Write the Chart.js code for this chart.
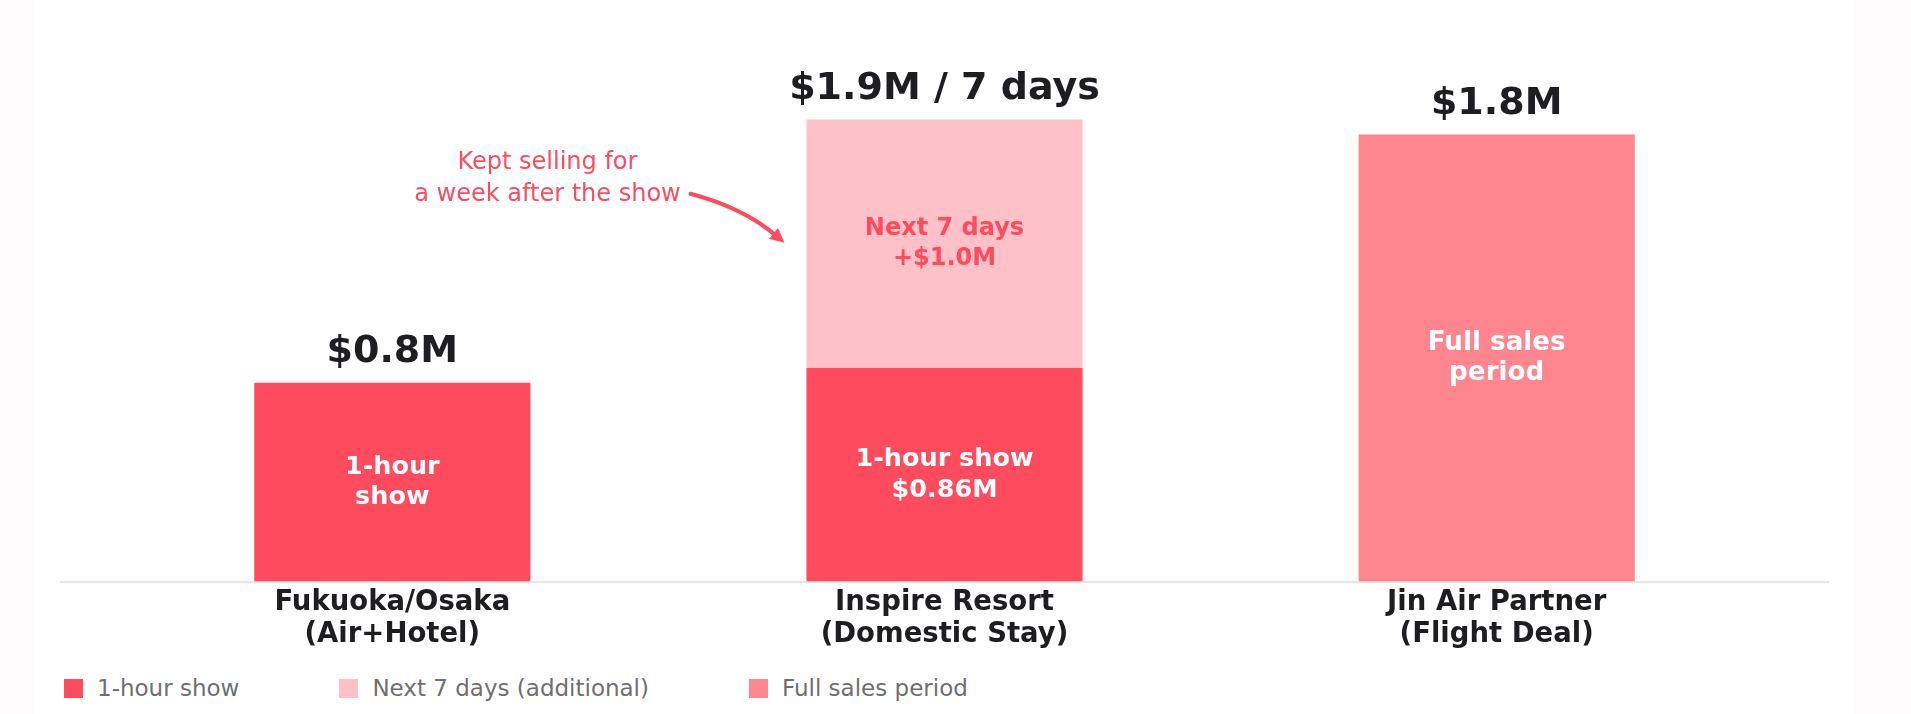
<!DOCTYPE html>
<html>
<head>
<meta charset="utf-8">
<title>Live commerce sales</title>
<script src="https://cdn.jsdelivr.net/npm/chart.js"></script>
<style>
html, body { margin: 0; padding: 0; background: #fffafb; }
#card { position: absolute; left: 34px; top: 0; width: 1820px; height: 714px; background: #fff; }
#myChart { position: absolute; left: 0; top: 0; }
#legend { position: absolute; left: 30px; top: 677px; display: flex; gap: 100px; font: 23px 'DejaVu Sans'; color: #6f6f73; }
#legend .item { display: flex; align-items: center; line-height: 23px; }
#legend .box { width: 19px; height: 19px; margin-right: 14px; }
</style>
</head>
<body>
<div id="card">
    <canvas id="myChart" width="1820" height="660"></canvas>
    <div id="legend"></div>
</div>
<script>
// categories (multi-line tick labels)
const categories = [
    ['Fukuoka/Osaka', '(Air+Hotel)'],
    ['Inspire Resort', '(Domestic Stay)'],
    ['Jin Air Partner', '(Flight Deal)']
];
const seriesNames = ['1-hour show', 'Next 7 days (additional)', 'Full sales period'];

// sales in $M
const showSales = [0.8, 0.86, null];
const weekSales = [null, 1.0, null];
const fullSales = [null, null, 1.8];

const totalLabels = ['$0.8M', '$1.9M / 7 days', '$1.8M'];
const showText = [['1-hour', 'show'], ['1-hour show', '$0.86M'], null];
const weekText = [null, ['Next 7 days', '+$1.0M'], null];
const fullText = [null, null, ['Full sales', 'period']];
const noteText = ['Kept selling for', 'a week after the show'];

const colors = ['#ff4b5e', '#ffc1c8', '#ff858f'];
const FONT = "'DejaVu Sans'";

function points(values) {
    return values.map((v, i) => ({x: i, y: v}));
}

const barText = {
    id: 'barText',
    afterDatasetsDraw(chart) {
        const ctx = chart.ctx;
        const texts = [showText, weekText, fullText];
        const sizes = [25.5, 24, 26.2];
        ctx.save();
        ctx.textAlign = 'center';
        ctx.textBaseline = 'middle';

        // text inside the bars
        chart.data.datasets.forEach((ds, d) => {
            const meta = chart.getDatasetMeta(d);
            meta.data.forEach((bar, j) => {
                const lines = texts[d][j];
                if (!lines || ds.data[j].y == null) return;
                const mid = (bar.y + bar.base) / 2;
                ctx.fillStyle = d === 1 ? colors[0] : '#ffffff';
                ctx.font = 'bold ' + sizes[d] + 'px ' + FONT;
                lines.forEach((t, k) => {
                    ctx.fillText(t, bar.x, mid + (k - (lines.length - 1) / 2) * 30.5);
                });
            });
        });

        // totals above the stacks
        const yScale = chart.scales.y;
        const xScale = chart.scales.x;
        ctx.fillStyle = '#1d1d22';
        ctx.font = 'bold 38px ' + FONT;
        totalLabels.forEach((t, j) => {
            const sum = (showSales[j] || 0) + (weekSales[j] || 0) + (fullSales[j] || 0);
            ctx.fillText(t, xScale.getPixelForValue(j), yScale.getPixelForValue(sum) - 30.5);
        });

        // annotation with arrow next to the "next 7 days" segment
        const seg = chart.getDatasetMeta(1).data[1];
        const left = seg.x - seg.width / 2;
        const midY = (seg.y + seg.base) / 2;
        ctx.fillStyle = colors[0];
        ctx.font = '24px ' + FONT;
        ctx.fillText(noteText[0], left - 259, midY - 81);
        ctx.fillText(noteText[1], left - 259, midY - 49);

        const sx = left - 116, sy = midY - 50;
        const cx = left - 63, cy = midY - 36;
        const tx = left - 22, ty = midY - 1;
        const ang = Math.atan2(ty - cy, tx - cx);
        const head = 16;
        const ex = tx - Math.cos(ang) * head * 0.7, ey = ty - Math.sin(ang) * head * 0.7;
        ctx.strokeStyle = colors[0];
        ctx.lineWidth = 4;
        ctx.lineCap = 'round';
        ctx.beginPath();
        ctx.moveTo(sx, sy);
        ctx.quadraticCurveTo(cx, cy, ex, ey);
        ctx.stroke();
        ctx.beginPath();
        ctx.moveTo(tx, ty);
        ctx.lineTo(tx - head * Math.cos(ang - 0.45), ty - head * Math.sin(ang - 0.45));
        ctx.lineTo(tx - head * Math.cos(ang + 0.45), ty - head * Math.sin(ang + 0.45));
        ctx.closePath();
        ctx.fill();
        ctx.restore();
    }
};

function chart() {
    const ctx = document.getElementById('myChart').getContext('2d');

    const salesChart = new Chart(ctx, {
        type: 'bar',
        data: {
            datasets: [{
                label: seriesNames[0],
                data: points(showSales),
                backgroundColor: colors[0]
            }, {
                label: seriesNames[1],
                data: points(weekSales),
                backgroundColor: colors[1]
            }, {
                label: seriesNames[2],
                data: points(fullSales),
                backgroundColor: colors[2]
            }]
        },
        options: {
            responsive: false,
            animation: false,
            devicePixelRatio: 1,
            categoryPercentage: 1,
            barPercentage: 0.5,
            layout: {
                padding: {top: 35, left: 27, right: 26, bottom: 4}
            },
            plugins: {
                legend: {display: false},
                tooltip: {enabled: false}
            },
            scales: {
                x: {
                    type: 'linear',
                    min: -0.6,
                    max: 2.6,
                    offset: false,
                    stacked: true,
                    grid: {display: false, drawTicks: false, offset: false},
                    border: {display: true, color: '#e6e6e8', width: 2},
                    ticks: {
                        stepSize: 1,
                        includeBounds: false,
                        autoSkip: false,
                        maxRotation: 0,
                        padding: 6,
                        color: '#1d1d22',
                        font: {family: FONT, size: 27.5, weight: 'bold', lineHeight: 1.135},
                        callback: (v) => categories[v] || ''
                    }
                },
                y: {
                    display: false,
                    stacked: true,
                    min: 0,
                    max: 2.2
                }
            }
        },
        plugins: [barText]
    });

    // html legend
    const legend = document.getElementById('legend');
    salesChart.data.datasets.forEach((ds) => {
        const item = document.createElement('div');
        item.className = 'item';
        item.innerHTML = '<span class="box" style="background:' + ds.backgroundColor + '"></span>' + ds.label;
        legend.appendChild(item);
    });
}

chart();
</script>
</body>
</html>
